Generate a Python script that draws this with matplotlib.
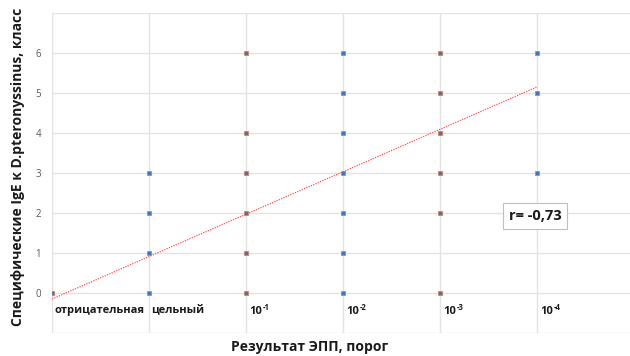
import matplotlib
matplotlib.use("Agg")
import matplotlib.pyplot as plt

plt.rcParams['font.family'] = ['Open Sans', 'DejaVu Sans']

categories = ["отрицательная", "цельный", "10^-1", "10^-2", "10^-3", "10^-4"]
x_vals = [0,
          1, 1, 1, 1,
          2, 2, 2, 2, 2, 2,
          3, 3, 3, 3, 3, 3, 3,
          4, 4, 4, 4, 4, 4,
          5, 5, 5]
y_vals = [0,
          0, 1, 2, 3,
          0, 1, 2, 3, 4, 6,
          0, 1, 2, 3, 4, 5, 6,
          0, 2, 3, 4, 5, 6,
          3, 5, 6]
trend_x = [0, 5]
trend_y = [-0.15, 5.15]
y_ticks = [0, 1, 2, 3, 4, 5, 6]
r_text = "r= -0,73"

fig = plt.figure(figsize=(6.30, 3.56), dpi=100)
ax = fig.add_axes([52/630, 23/356, 1 - 52/630, 320/356])
ax.set_xlim(0, 5.96)
ax.set_ylim(-1, 7)

grid_c = "#e3e3e3"
for yy in range(-1, 8):
    ax.axhline(yy, color=grid_c, lw=1.0, zorder=0)
for xx in range(0, 6):
    ax.axvline(xx, color=grid_c, lw=1.0, zorder=0)

for s in ax.spines.values():
    s.set_visible(False)

ax.plot(trend_x, trend_y, linestyle=(0, (1, 1)), color="#ff5050", lw=0.9, zorder=2)
ax.plot(x_vals, y_vals, linestyle="none", marker="s", markersize=3.0,
        markerfacecolor="#4472c4", markeredgecolor="#ed7d31", markeredgewidth=0.6, zorder=3)

ax.set_xticks([])
ax.set_yticks(y_ticks)
ax.set_yticklabels([str(t) for t in y_ticks], fontsize=7, color="#595959")
ax.tick_params(axis="y", length=0, pad=8)

lab_c = "#1a1a1a"
for i, c in enumerate(categories):
    if "^" in c:
        base, exp = c.split("^")
        ax.annotate(base, (i, -0.45), xytext=(2.5, 0), textcoords="offset points",
                    ha="left", va="center", fontsize=8, fontweight="bold", color=lab_c)
        ax.annotate(exp, (i, -0.45), xytext=(12.0, 2.6), textcoords="offset points",
                    ha="left", va="center", fontsize=5.5, fontweight="bold", color=lab_c)
    else:
        ax.annotate(c, (i, -0.45), xytext=(1.5, 0), textcoords="offset points",
                    ha="left", va="center", fontsize=8, fontweight="bold", color=lab_c)

ax.text(4.98, 1.93, r_text, ha="center", va="center", fontsize=10.5, fontweight="bold",
        color=lab_c,
        bbox=dict(boxstyle="square,pad=0.4", facecolor="white", edgecolor="#bfbfbf", lw=0.8))

fig.text(310/630, 1 - 347/356, "Результат ЭПП, порог", ha="center", va="center",
         fontsize=10, fontweight="bold", color=lab_c)
fig.text(18/630, 1 - 167/356, "Специфические IgE к D.pteronyssinus, класс", ha="center",
         va="center", rotation=90, fontsize=10, fontweight="bold", color=lab_c)

fig.savefig("out.png", dpi=100)
